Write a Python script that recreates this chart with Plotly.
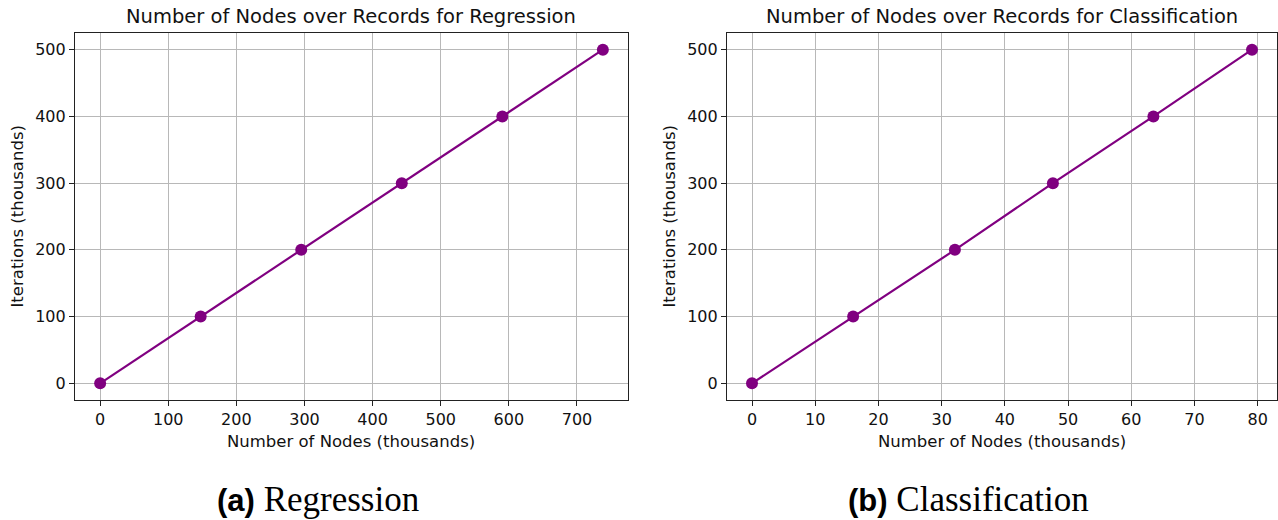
import plotly.graph_objects as go

W, H = 1278, 520

iterations = [0, 100, 200, 300, 400, 500]
reg_nodes = [0, 147.6, 295.2, 442.8, 590.4, 738.0]
cls_nodes = [0, 16.0, 32.1, 47.6, 63.5, 79.1]

reg_xticks = [0, 100, 200, 300, 400, 500, 600, 700]
cls_xticks = [0, 10, 20, 30, 40, 50, 60, 70, 80]
yticks = [0, 100, 200, 300, 400, 500]

titles = ["Number of Nodes over Records for Regression",
          "Number of Nodes over Records for Classification"]
xlabel = "Number of Nodes (thousands)"
ylabel = "Iterations (thousands)"
captions = [("(a)", "Regression"), ("(b)", "Classification")]

purple = "#800080"
font = "DejaVu Sans"

# plot-area pixel boxes
boxes = [(75, 628), (727, 1277)]
top, bottom = 33, 400

fig = go.Figure()

def pad(lo, hi):
    s = hi - lo
    return [lo - 0.05 * s, hi + 0.05 * s]

for i, (xs, xt) in enumerate([(reg_nodes, reg_xticks), (cls_nodes, cls_xticks)]):
    xa = "x" if i == 0 else "x2"
    ya = "y" if i == 0 else "y2"
    fig.add_trace(go.Scatter(
        x=xs, y=iterations, mode="lines+markers",
        line=dict(color=purple, width=2.2),
        marker=dict(color=purple, size=12),
        xaxis=xa, yaxis=ya, showlegend=False, hoverinfo="x+y", cliponaxis=False))
    x0, x1 = boxes[i]
    axis_common = dict(
        showline=True, linecolor="#222", linewidth=1.2, mirror=True,
        ticks="outside", ticklen=5, tickwidth=1.2, tickcolor="#222",
        showgrid=True, gridcolor="#b8b8b8", gridwidth=1.2,
        zeroline=False, automargin=False,
        tickfont=dict(family=font, size=16, color="#111"),
    )
    xkey = "xaxis" if i == 0 else "xaxis2"
    ykey = "yaxis" if i == 0 else "yaxis2"
    fig.update_layout(**{
        xkey: dict(domain=[x0 / W, x1 / W], range=pad(min(xs), max(xs)),
                   tickvals=xt, anchor=ya, **axis_common),
        ykey: dict(domain=[1 - bottom / H, 1 - top / H], range=pad(0, 500),
                   tickvals=yticks, anchor=xa, **axis_common),
    })
    cx = (x0 + x1) / 2 / W
    fig.add_annotation(text=titles[i], x=cx, y=1 - 17 / H, xref="paper", yref="paper",
                       showarrow=False, font=dict(family=font, size=19.5, color="#111"),
                       xanchor="center", yanchor="middle")
    fig.add_annotation(text=xlabel, x=cx, y=1 - 441 / H, xref="paper", yref="paper",
                       showarrow=False, font=dict(family=font, size=16.5, color="#111"),
                       xanchor="center", yanchor="middle")
    fig.add_annotation(text=ylabel, x=(x0 - 58) / W, y=1 - ((top + bottom) / 2) / H,
                       xref="paper", yref="paper", textangle=-90,
                       showarrow=False, font=dict(family=font, size=16.5, color="#111"),
                       xanchor="center", yanchor="middle")
    lab, word = captions[i]
    capx = [318, 968][i]
    fig.add_annotation(
        text=f"<span style='font-family:Liberation Sans;font-size:31px'><b>{lab}</b></span>"
             f" <span style='font-family:Liberation Serif;font-size:35px'>{word}</span>",
        x=capx / W, y=1 - 499 / H, xref="paper", yref="paper",
        showarrow=False, font=dict(family="Liberation Serif", size=35, color="black"),
        xanchor="center", yanchor="middle")

fig.update_layout(width=W, height=H, margin=dict(l=0, r=0, t=0, b=0),
                  paper_bgcolor="white", plot_bgcolor="white")

fig.write_html("out.html", config={"displayModeBar": False},
               post_script="document.body.style.margin='0';document.body.style.overflow='hidden';")
